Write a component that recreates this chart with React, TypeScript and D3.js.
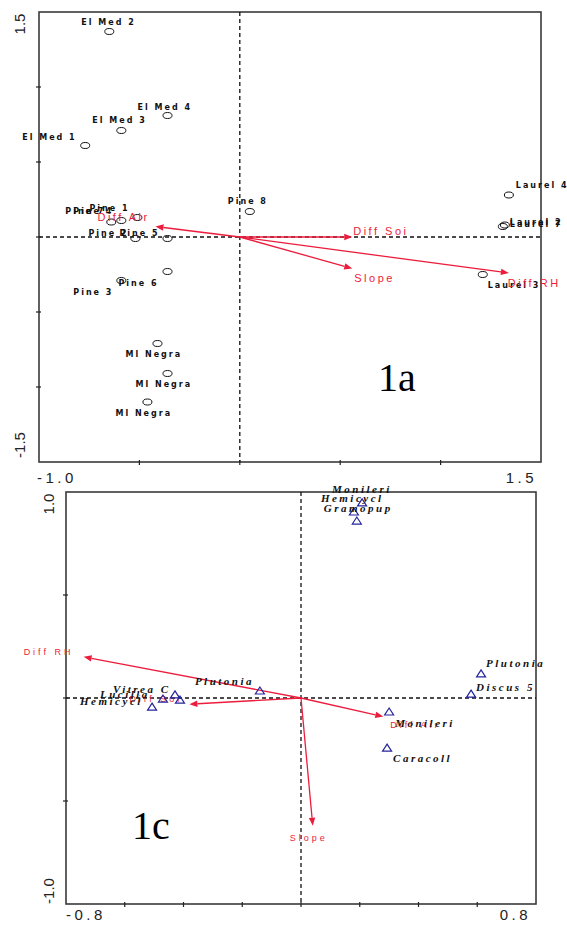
import { useEffect, useRef } from "react";
import * as d3 from "d3";

// ---- Panel 1a: site scores ----
const SITE_NAMES = [
  "El Med 2", "El Med 4", "El Med 3", "El Med 1",
  "Pine 8", "Pine 7", "Pine 4", "Pine 1", "Pine 2", "Pine 5", "Pine 6", "Pine 3",
  "Ml Negra", "Ml Negra", "Ml Negra",
  "Laurel 4", "Laurel 2", "Laurel 7", "Laurel 3",
];
const SITE_X = [-0.65, -0.36, -0.59, -0.77, 0.05, -0.64, -0.59, -0.51, -0.52, -0.36, -0.36, -0.59, -0.41, -0.36, -0.46, 1.34, 1.32, 1.31, 1.21];
const SITE_Y = [1.37, 0.81, 0.71, 0.61, 0.17, 0.1, 0.11, 0.13, -0.01, -0.01, -0.23, -0.29, -0.71, -0.91, -1.1, 0.28, 0.08, 0.07, -0.25];

const ENV_A_NAMES = ["Diff Air", "Diff Soi", "Slope", "Diff RH"];
const ENV_A_X = [-0.42, 0.56, 0.56, 1.34];
const ENV_A_Y = [0.07, 0.0, -0.21, -0.24];

// ---- Panel 1c: species scores ----
const SPECIES_NAMES = [
  "Monileri", "Hemicycl", "Gramopup", "Plutonia", "Discus 5", "Monileri",
  "Caracoll", "Plutonia", "Hemicycl", "Vitrea C", "Lucilla", "",
];
const SPECIES_X = [0.208, 0.18, 0.19, 0.613, 0.579, 0.3, 0.293, -0.14, -0.507, -0.429, -0.412, -0.47];
const SPECIES_Y = [0.947, 0.903, 0.859, 0.117, 0.019, -0.068, -0.243, 0.034, -0.044, 0.015, -0.01, -0.005];

const ENV_C_NAMES = ["Diff RH", "Diff Soi", "Diff Air", "Slope"];
const ENV_C_X = [-0.74, -0.38, 0.28, 0.04];
const ENV_C_Y = [0.2, -0.03, -0.09, -0.62];

// label offsets in pixels (layout only)
const SITE_LABEL_DX = [-28, -30, -29, -63, -22, -46, -48, -48, -47, -48, -49, -48, -32, -32, -32, 7, 5, 7, 5];
const SITE_LABEL_DY = [-7, -6, -8, -6, -8, -8, -7, -7, -3, -3, 14, 14, 13, 13, 14, -7, 0, 0, 13];
const ENV_A_DX = [-58, 1, 2, -1];
const ENV_A_DY = [-6, -2, 13, 14];
const SPECIES_DX = [-30, -33, -33, 5, 5, 6, 6, -65, -72, -62, -80, 0];
const SPECIES_DY = [-10, -10, -9, -7, -3, 15, 14, -6, -2, -2, -2, 0];
const ENV_C_DX = [-60, -60, 7, -23];
const ENV_C_DY = [-2, -2, 11, 15];

const RED = "#ec1c3c";
const BLUE = "#24249c";

const PANEL_A = {
  x0: 39, x1: 541, y0: 12, y1: 462,
  xDomain: [-1.0, 1.5], yDomain: [-1.5, 1.5],
  xStep: 0.5, yStep: 0.5,
  xLabels: ["-1.0", "1.5"], yLabels: ["1.5", "-1.5"],
  yLabelX: 25, yLabelTop: 24, yLabelBottom: 445,
  xLabelY: 483, xLabelLeft: 37, xLabelRight: 537,
  title: "1a", titleX: 378, titleY: 391,
};

const PANEL_C = {
  x0: 66, x1: 536, y0: 492, y1: 904,
  xDomain: [-0.8, 0.8], yDomain: [-1.0, 1.0],
  xStep: 0.2, yStep: 0.5,
  xLabels: ["-0.8", "0.8"], yLabels: ["1.0", "-1.0"],
  yLabelX: 54, yLabelTop: 504, yLabelBottom: 891,
  xLabelY: 920, xLabelLeft: 66, xLabelRight: 531,
  title: "1c", titleX: 132, titleY: 839,
};

function buildScales(p) {
  const x = d3.scaleLinear().domain(p.xDomain).range([p.x0, p.x1]);
  const y = d3.scaleLinear().domain(p.yDomain).range([p.y1, p.y0]);
  return { x, y };
}

function drawFrame(svg, p, s) {
  const g = svg.append("g");
  g.append("rect")
    .attr("x", p.x0).attr("y", p.y0)
    .attr("width", p.x1 - p.x0).attr("height", p.y1 - p.y0)
    .attr("fill", "none").attr("stroke", "#3a3a3a").attr("stroke-width", 1.6);

  // zero lines
  g.append("line")
    .attr("x1", p.x0).attr("x2", p.x1)
    .attr("y1", s.y(0)).attr("y2", s.y(0))
    .attr("stroke", "#111").attr("stroke-width", 1.3).attr("stroke-dasharray", "4,3");
  g.append("line")
    .attr("x1", s.x(0)).attr("x2", s.x(0))
    .attr("y1", p.y0).attr("y2", p.y1)
    .attr("stroke", "#111").attr("stroke-width", 1.3).attr("stroke-dasharray", "4,3");

  const xt = d3.range(p.xDomain[0] + p.xStep, p.xDomain[1] - 1e-6, p.xStep);
  const yt = d3.range(p.yDomain[0] + p.yStep, p.yDomain[1] - 1e-6, p.yStep);
  g.selectAll(".xt").data(xt).join("line")
    .attr("x1", (d) => s.x(d)).attr("x2", (d) => s.x(d))
    .attr("y1", p.y1 - 2).attr("y2", p.y1 + 3)
    .attr("stroke", "#222").attr("stroke-width", 1.2);
  g.selectAll(".yt").data(yt).join("line")
    .attr("x1", p.x0 - 3).attr("x2", p.x0 + 2)
    .attr("y1", (d) => s.y(d)).attr("y2", (d) => s.y(d))
    .attr("stroke", "#222").attr("stroke-width", 1.2);

  const tickFont = (t) =>
    t.attr("font-family", "Liberation Sans, Arial, sans-serif")
      .attr("font-size", 15).attr("fill", "#222");

  g.append("text").call(tickFont)
    .attr("x", p.xLabelLeft).attr("y", p.xLabelY)
    .attr("letter-spacing", 3.5).text(p.xLabels[0]);
  g.append("text").call(tickFont)
    .attr("x", p.xLabelRight).attr("y", p.xLabelY)
    .attr("text-anchor", "end").attr("letter-spacing", 3.5).text(p.xLabels[1]);
  g.append("text").call(tickFont)
    .attr("transform", `translate(${p.yLabelX},${p.yLabelTop}) rotate(-90)`)
    .attr("text-anchor", "middle").text(p.yLabels[0]);
  g.append("text").call(tickFont)
    .attr("transform", `translate(${p.yLabelX},${p.yLabelBottom}) rotate(-90)`)
    .attr("text-anchor", "middle").text(p.yLabels[1]);

  g.append("text")
    .attr("x", p.titleX).attr("y", p.titleY)
    .attr("font-family", "Liberation Serif, Times New Roman, serif")
    .attr("font-size", 40).attr("fill", "#000")
    .text(p.title);
}

function drawArrows(svg, s, names, xs, ys, dxs, dys, font) {
  const g = svg.append("g");
  const ox = s.x(0);
  const oy = s.y(0);
  names.forEach((name, i) => {
    const tx = s.x(xs[i]);
    const ty = s.y(ys[i]);
    const ang = Math.atan2(ty - oy, tx - ox);
    const len = 8;
    const hw = 3.2;
    const bx = tx - len * Math.cos(ang);
    const by = ty - len * Math.sin(ang);
    g.append("line")
      .attr("x1", ox).attr("y1", oy).attr("x2", bx).attr("y2", by)
      .attr("stroke", RED).attr("stroke-width", 1.3);
    const px = -Math.sin(ang) * hw;
    const py = Math.cos(ang) * hw;
    g.append("path")
      .attr("d", `M${tx},${ty}L${bx + px},${by + py}L${bx - px},${by - py}Z`)
      .attr("fill", RED);
    g.append("text")
      .attr("x", tx + dxs[i]).attr("y", ty + dys[i])
      .attr("font-family", "Liberation Sans, Arial, sans-serif")
      .attr("font-size", font.size).attr("letter-spacing", font.spacing)
      .attr("fill", RED)
      .text(name);
  });
}

function drawSites(svg, s) {
  const g = svg.append("g");
  SITE_NAMES.forEach((name, i) => {
    const cx = s.x(SITE_X[i]);
    const cy = s.y(SITE_Y[i]);
    g.append("ellipse")
      .attr("cx", cx).attr("cy", cy).attr("rx", 4.5).attr("ry", 3)
      .attr("fill", "none").attr("stroke", "#111").attr("stroke-width", 1);
    g.append("text")
      .attr("x", cx + SITE_LABEL_DX[i]).attr("y", cy + SITE_LABEL_DY[i])
      .attr("font-family", "DejaVu Sans, sans-serif")
      .attr("font-size", 8).attr("font-weight", "bold")
      .attr("letter-spacing", 2).attr("fill", "#111")
      .text(name);
  });
}

function drawSpecies(svg, s) {
  const g = svg.append("g");
  SPECIES_NAMES.forEach((name, i) => {
    const cx = s.x(SPECIES_X[i]);
    const cy = s.y(SPECIES_Y[i]);
    g.append("path")
      .attr("d", `M${cx},${cy - 4}L${cx + 4.5},${cy + 3}L${cx - 4.5},${cy + 3}Z`)
      .attr("fill", "none").attr("stroke", BLUE).attr("stroke-width", 1.2);
    g.append("text")
      .attr("x", cx + SPECIES_DX[i]).attr("y", cy + SPECIES_DY[i])
      .attr("font-family", "Liberation Serif, Times New Roman, serif")
      .attr("font-size", 11).attr("font-weight", "bold").attr("font-style", "italic")
      .attr("letter-spacing", 2.5).attr("fill", "#111")
      .text(name);
  });
}

export default function App() {
  const ref = useRef<SVGSVGElement | null>(null);

  useEffect(() => {
    const el = ref.current;
    if (!el) return;
    const svg = d3.select(el);
    svg.selectAll("*").remove();

    const sa = buildScales(PANEL_A);
    drawFrame(svg, PANEL_A, sa);
    drawSites(svg, sa);
    drawArrows(svg, sa, ENV_A_NAMES, ENV_A_X, ENV_A_Y, ENV_A_DX, ENV_A_DY, { size: 11, spacing: 2.5 });

    const sc = buildScales(PANEL_C);
    drawFrame(svg, PANEL_C, sc);
    drawArrows(svg, sc, ENV_C_NAMES, ENV_C_X, ENV_C_Y, ENV_C_DX, ENV_C_DY, { size: 9, spacing: 3 });
    drawSpecies(svg, sc);
  }, []);

  return (
    <svg
      ref={ref}
      width={567}
      height={925}
      style={{ position: "absolute", left: 0, top: 0, background: "#fff" }}
    />
  );
}
